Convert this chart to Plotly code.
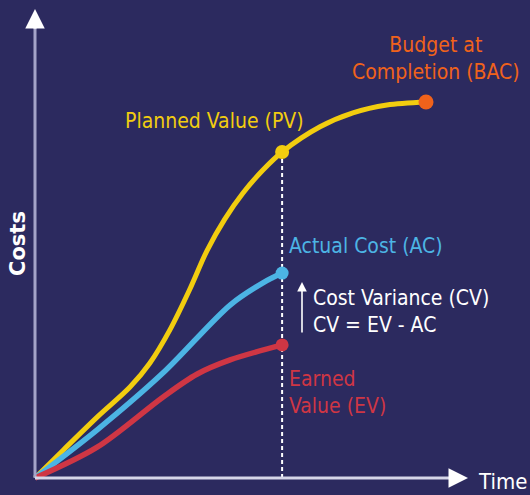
import plotly.graph_objects as go

# Earned value curves (time in periods, cost in % of budget)
pv_time = [0, 0.72, 1.59, 2.43, 2.94, 3.45, 3.95, 4.40, 4.85, 5.32, 5.83, 6.32, 7.29, 8.13, 9.00, 10.0]
pv_cost = [0, 7.4, 16.2, 24.2, 30.6, 39.4, 50.0, 60.5, 68.8, 75.8, 81.9, 86.7, 93.4, 97.1, 99.2, 100.0]

ac_time = [0, 1.59, 3.27, 4.99, 5.83, 6.32]
ac_cost = [0, 12.8, 27.9, 46.0, 51.9, 54.5]

ev_time = [0, 1.59, 3.27, 4.14, 4.99, 6.32]
ev_cost = [0, 8.2, 21.5, 27.6, 31.4, 35.4]

status_time = 6.32
status_pv = 86.7
bac_time, bac_cost = 10.0, 100.0

BG = "#2c2a5f"
YELLOW = "#f2cd0f"
BLUE = "#4cb4e4"
RED = "#cf3644"
ORANGE = "#f0621b"
WHITE = "#ffffff"

W, H = 530, 495
X0_PX, Y0_PX = 35, 478          # origin of the chart axes in pixels
PX_PER_T, PX_PER_C = 39.1, 3.76  # scale of time and cost


def tx(px):
    return (px - X0_PX) / PX_PER_T


def cy(py):
    return (Y0_PX - py) / PX_PER_C


NARROW = "DejaVu Sans Condensed, Liberation Sans Narrow, sans-serif"

fig = go.Figure()

# status-date guide
fig.add_shape(type="line", x0=status_time, x1=status_time, y0=0, y1=status_pv,
              line=dict(color=WHITE, width=2, dash="4px,3px"), layer="below")

# axes
fig.add_shape(type="line", x0=0, x1=0, y0=0, y1=cy(20), line=dict(color="#a4a3c8", width=3))
fig.add_shape(type="line", x0=0, x1=tx(458), y0=0, y1=0, line=dict(color="#d6d6e8", width=3))
fig.add_annotation(x=0, y=cy(9), ax=0, ay=cy(30), xref="x", yref="y", axref="x", ayref="y",
                   text="", showarrow=True, arrowhead=2, arrowsize=1.3, arrowwidth=3, arrowcolor=WHITE)
fig.add_annotation(x=tx(468), y=0, ax=tx(450), ay=0, xref="x", yref="y", axref="x", ayref="y",
                   text="", showarrow=True, arrowhead=2, arrowsize=1.3, arrowwidth=3, arrowcolor=WHITE)

# curves
fig.add_trace(go.Scatter(x=pv_time, y=pv_cost, mode="lines",
                         line=dict(color=YELLOW, width=5, shape="spline", smoothing=0.9)))
fig.add_trace(go.Scatter(x=ac_time, y=ac_cost, mode="lines",
                         line=dict(color=BLUE, width=5.5, shape="spline", smoothing=0.9)))
fig.add_trace(go.Scatter(x=ev_time, y=ev_cost, mode="lines",
                         line=dict(color=RED, width=5.5, shape="spline", smoothing=0.9)))

# end points
fig.add_trace(go.Scatter(x=[status_time], y=[status_pv], mode="markers",
                         marker=dict(color=YELLOW, size=14)))
fig.add_trace(go.Scatter(x=[ac_time[-1]], y=[ac_cost[-1]], mode="markers",
                         marker=dict(color=BLUE, size=13)))
fig.add_trace(go.Scatter(x=[ev_time[-1]], y=[ev_cost[-1]], mode="markers",
                         marker=dict(color=RED, size=13)))
fig.add_trace(go.Scatter(x=[bac_time], y=[bac_cost], mode="markers",
                         marker=dict(color=ORANGE, size=15)))

# cost variance arrow
fig.add_annotation(x=tx(302), y=cy(282), ax=tx(302), ay=cy(334), xref="x", yref="y", axref="x", ayref="y",
                   text="", showarrow=True, arrowhead=2, arrowsize=1.2, arrowwidth=1.6, arrowcolor=WHITE)

labels = [
    ("Budget at<br>Completion (BAC)", tx(436), cy(58), "center", ORANGE),
    ("Planned Value (PV)", tx(214), cy(121), "center", YELLOW),
    ("Actual Cost (AC)", tx(287), cy(246), "left", BLUE),
    ("Cost Variance (CV)<br>CV = EV - AC", tx(311), cy(311), "left", WHITE),
    ("Earned<br>Value (EV)", tx(287), cy(392), "left", RED),
]
for text, x, y, anchor, color in labels:
    fig.add_annotation(x=x, y=y, xref="x", yref="y", text=text, showarrow=False,
                       xanchor=anchor, yanchor="middle", align=anchor,
                       font=dict(family=NARROW, size=21, color=color))

fig.add_annotation(x=tx(18), y=cy(244), xref="x", yref="y", text="<b>Costs</b>", textangle=-90,
                   showarrow=False, font=dict(family="DejaVu Sans, sans-serif", size=21, color=WHITE))
fig.add_annotation(x=tx(476), y=cy(481), xref="x", yref="y", text="Time", showarrow=False,
                   xanchor="left", yanchor="middle",
                   font=dict(family=NARROW, size=22, color=WHITE))

fig.update_layout(
    width=W, height=H,
    margin=dict(l=0, r=0, t=0, b=0),
    paper_bgcolor=BG, plot_bgcolor=BG,
    showlegend=False,
    xaxis=dict(range=[tx(0), tx(W)], visible=False, fixedrange=True),
    yaxis=dict(range=[cy(H), cy(0)], visible=False, fixedrange=True),
)

fig.write_html("out.html")
